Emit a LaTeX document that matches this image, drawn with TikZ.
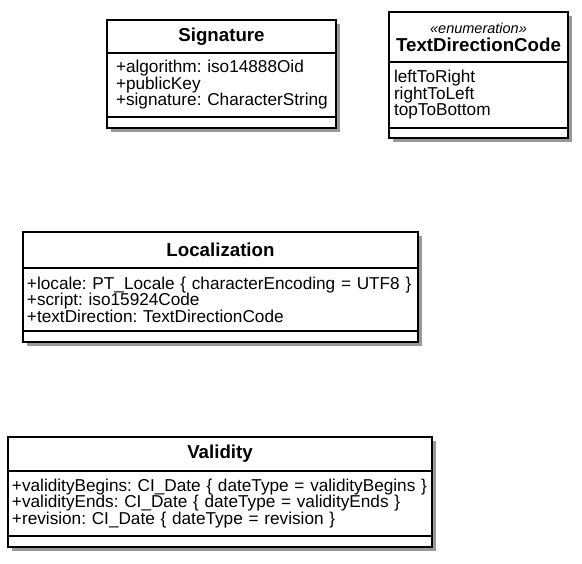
\documentclass[tikz,border=0pt]{standalone}
\usepackage{fontspec}
\setmainfont{Liberation Sans}
\usetikzlibrary{positioning,shadows}

\newcommand{\attrfont}{\fontsize{17.2}{16.5}\selectfont\frenchspacing\hyphenpenalty=10000\relax}

\tikzset{
  umlbox/.style={draw, line width=1.8pt, fill=white, inner sep=0pt, outer sep=0pt,
    drop shadow={shadow xshift=4pt, shadow yshift=-4pt, fill=black, opacity=0.4}},
  classname/.style={umlbox, anchor=north west, align=center,
    font=\fontsize{18.7}{18}\selectfont\bfseries},
  classattrs/.style={umlbox, anchor=north, align=left, font=\attrfont},
  classops/.style={umlbox, anchor=north},
}

\begin{document}
\begin{tikzpicture}[x=1pt,y=-1pt]
  \useasboundingbox (0,0) rectangle (582,564);

  % Signature
  \node[classname, minimum width=229pt, minimum height=33pt] (sigName) at (107,20) {Signature};
  \node[classattrs, below=0pt of sigName, inner xsep=9pt, text width=211pt, minimum height=64pt] (sigAttrs)
    {+algorithm: iso14888Oid\\+publicKey\\\mbox{+signature: CharacterString}};
  \node[classops, below=0pt of sigAttrs, minimum width=229pt, minimum height=11pt] (sigOps) {};

  % TextDirectionCode
  \node[classname, minimum width=179pt, minimum height=50pt] (tdcName) at (389,12)
    {{\fontsize{14.5}{16}\selectfont\mdseries\itshape «enumeration»}\\TextDirectionCode};
  \node[classattrs, below=0pt of tdcName, inner xsep=5pt, text width=169pt, minimum height=66pt] (tdcAttrs)
    {leftToRight\\rightToLeft\\topToBottom};
  \node[classops, below=0pt of tdcAttrs, minimum width=179pt, minimum height=10pt] (tdcOps) {};

  % Localization
  \node[classname, minimum width=395pt, minimum height=36pt] (locName) at (23,232) {Localization};
  \node[classattrs, below=0pt of locName, inner xsep=4pt, text width=387pt, minimum height=63pt] (locAttrs)
    {+locale: PT\_Locale \{ characterEncoding = UTF8 \}\\+script: iso15924Code\\+textDirection: TextDirectionCode};
  \node[classops, below=0pt of locAttrs, minimum width=395pt, minimum height=11pt] (locOps) {};

  % Validity
  \node[classname, minimum width=424pt, minimum height=34pt] (valName) at (8,437) {Validity};
  \node[classattrs, below=0pt of valName, inner xsep=4pt, text width=416pt, minimum height=65pt] (valAttrs)
    {+validityBegins: CI\_Date \{ dateType = validityBegins \}\\+validityEnds: CI\_Date \{ dateType = validityEnds \}\\+revision: CI\_Date \{ dateType = revision \}};
  \node[classops, below=0pt of valAttrs, minimum width=424pt, minimum height=11pt] (valOps) {};
\end{tikzpicture}
\end{document}
